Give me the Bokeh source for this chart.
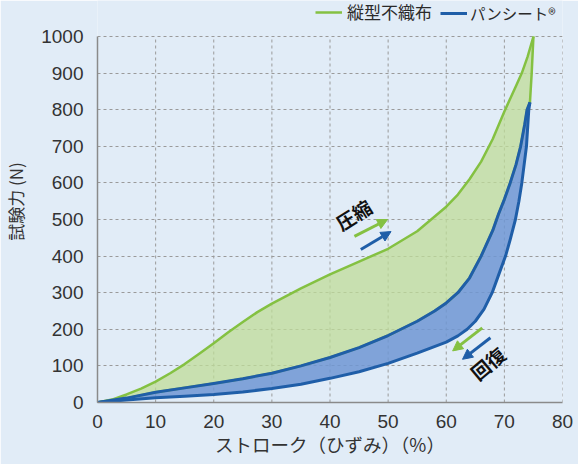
from bokeh.plotting import figure
from bokeh.models import Range1d, Legend, LegendItem, Arrow, NormalHead, Label, FixedTicker
from bokeh.embed import file_html
from bokeh.resources import INLINE
import math

# --- data -------------------------------------------------------------
# 縦型不織布 (green): compression curve
green_comp_x = [0, 2.5, 5, 7.5, 10, 12.5, 15, 17.5, 20, 22.5, 25, 27.5, 30, 35, 40, 45, 50, 55, 60, 62, 64, 66, 68, 70, 72, 73, 74, 75]
green_comp_y = [0, 8, 22, 38, 57, 80, 105, 133, 162, 192, 220, 247, 270, 312, 350, 385, 420, 468, 535, 568, 610, 658, 720, 795, 865, 900, 945, 1000]
# 縦型不織布 (green): recovery curve (from top back to origin)
green_ret_x = [75, 74.7, 74.4, 73.9, 73.5, 72.8, 72, 71, 70, 69, 68, 66, 64, 62, 60, 58, 55, 50, 45, 40, 35, 30, 25, 20, 15, 10, 5, 0]
green_ret_y = [1000, 900, 820, 800, 760, 700, 650, 600, 555, 515, 470, 400, 340, 300, 272, 250, 222, 183, 150, 123, 100, 80, 65, 52, 40, 28, 12, 0]

# パンシート (blue): compression curve
blue_comp_x = [0, 5, 10, 15, 20, 25, 30, 35, 40, 45, 50, 55, 58, 60, 62, 64, 66, 68, 69, 70, 71, 72, 72.8, 73.5, 73.9, 74.4]
blue_comp_y = [0, 12, 28, 40, 52, 65, 80, 100, 123, 150, 183, 222, 250, 272, 300, 340, 400, 470, 515, 555, 600, 650, 700, 760, 800, 820]
# パンシート (blue): recovery curve
blue_ret_x = [74.4, 74.2, 73.8, 73.4, 73.0, 72.5, 71.9, 71.0, 70.2, 69, 67.9, 66.5, 65, 63.6, 62, 60, 55, 50, 45, 40, 35, 30, 25, 20, 15, 10, 5, 0]
blue_ret_y = [820, 800, 700, 650, 600, 550, 500, 445, 400, 348, 300, 255, 222, 200, 182, 165, 135, 107, 84, 66, 50, 38, 29, 22, 17, 13, 7, 0]

x_ticks = [0, 10, 20, 30, 40, 50, 60, 70, 80]
y_ticks = [0, 100, 200, 300, 400, 500, 600, 700, 800, 900, 1000]

series_names = ["縦型不織布", "パンシート®"]
x_title = "ストローク（ひずみ）（%）"
y_title = "試験力 (N)"
label_comp = "圧縮"
label_ret = "回復"

# --- styling ----------------------------------------------------------
BG = "#e1ecf7"
GREEN = "#84c142"
GREEN_FILL = "#bfdc98"
BLUE = "#1f5ea8"
BLUE_FILL = "#6e97d3"
TXT = "#333333"
JP = "Noto Sans CJK JP"
GRID = "#9a9a9a"

# the frame extends above 1000 to leave room for the legend row
y_top = y_ticks[-1] * 402 / 366

p = figure(width=578, height=464, output_backend="svg", toolbar_location=None,
           x_range=Range1d(x_ticks[0], x_ticks[-1]), y_range=Range1d(0, y_top),
           min_border_left=95, min_border_right=16, min_border_top=0, min_border_bottom=62)
p.background_fill_color = BG
p.border_fill_color = BG
p.outline_line_color = None

for ax in (p.xaxis[0], p.yaxis[0]):
    ax.axis_line_color = "#8a8a8a"
    ax.axis_line_width = 1.5
    ax.major_tick_line_color = None
    ax.minor_tick_line_color = None
    ax.major_label_text_font = "Liberation Sans"
    ax.major_label_text_font_size = "19px"
    ax.major_label_text_color = TXT
    ax.axis_label_text_font = JP
    ax.axis_label_text_font_style = "normal"
    ax.axis_label_text_color = TXT

p.xaxis.axis_label_text_font_size = "18.5px"
p.yaxis.axis_label_text_font_size = "17px"
p.xaxis.ticker = FixedTicker(ticks=x_ticks)
p.yaxis.ticker = FixedTicker(ticks=y_ticks)
p.yaxis.bounds = (y_ticks[0], y_ticks[-1])
p.xaxis.axis_label = x_title
p.yaxis.axis_label = y_title
p.xaxis.major_label_standoff = 6
p.yaxis.major_label_standoff = 8
p.xaxis.axis_label_standoff = 0
p.yaxis.axis_label_standoff = 10

p.xgrid.grid_line_color = None
p.ygrid.grid_line_color = GRID
p.ygrid.grid_line_dash = "3 3"
p.ygrid.grid_line_width = 1
# vertical grid lines only up to 1000
p.segment(x0=x_ticks, y0=[y_ticks[0]] * len(x_ticks), x1=x_ticks, y1=[y_ticks[-1]] * len(x_ticks),
          line_color=GRID, line_dash="3 3", line_width=1, level="underlay")

# fills
p.patch(green_comp_x + green_ret_x, green_comp_y + green_ret_y,
        fill_color=GREEN_FILL, fill_alpha=0.75, line_color=None)
p.patch(blue_comp_x + blue_ret_x, blue_comp_y + blue_ret_y,
        fill_color=BLUE_FILL, fill_alpha=0.85, line_color=None)

# lines
g1 = p.line(green_comp_x, green_comp_y, line_color=GREEN, line_width=2.5, line_join="round")
p.line(green_ret_x, green_ret_y, line_color=GREEN, line_width=2.5, line_join="round")
b1 = p.line(blue_comp_x, blue_comp_y, line_color=BLUE, line_width=3, line_join="round")
p.line(blue_ret_x, blue_ret_y, line_color=BLUE, line_width=3, line_join="round")

legend_style = dict(orientation="horizontal", background_fill_alpha=0, border_line_color=None,
                    label_text_font=JP, label_text_color="#2a2a2a",
                    glyph_width=27, glyph_height=14, padding=0, margin=0)
p.add_layout(Legend(items=[LegendItem(label=series_names[0], renderers=[g1])],
                    location=(218, 378), label_standoff=5, label_text_font_size="17px",
                    **legend_style), "center")
p.add_layout(Legend(items=[LegendItem(label=series_names[1], renderers=[b1])],
                    location=(343, 378), label_standoff=3, label_text_font_size="15.5px",
                    **legend_style), "center")

# annotations
ang_c = math.radians(32)
ang_r = math.radians(40)
p.add_layout(Label(x=44, y=514, text=label_comp, angle=ang_c, text_font=JP,
                   text_font_size="19px", text_font_style="bold", text_color="#111111",
                   text_align="center", text_baseline="middle"))
p.add_layout(Label(x=67.1, y=108, text=label_ret, angle=ang_r, text_font=JP,
                   text_font_size="19px", text_font_style="bold", text_color="#111111",
                   text_align="center", text_baseline="middle"))

arrows = [
    ((44.2, 454), (49.9, 500), GREEN),
    ((45.3, 418), (50.5, 467), BLUE),
    ((66.2, 204), (61.1, 141), GREEN),
    ((67.6, 177), (62.8, 118), BLUE),
]
for (xs, ys), (xe, ye), c in arrows:
    p.add_layout(Arrow(x_start=xs, y_start=ys, x_end=xe, y_end=ye,
                       line_color=c, line_width=3,
                       end=NormalHead(size=10, fill_color=c, line_color=c)))

open("out.html", "w").write(file_html(p, INLINE))
